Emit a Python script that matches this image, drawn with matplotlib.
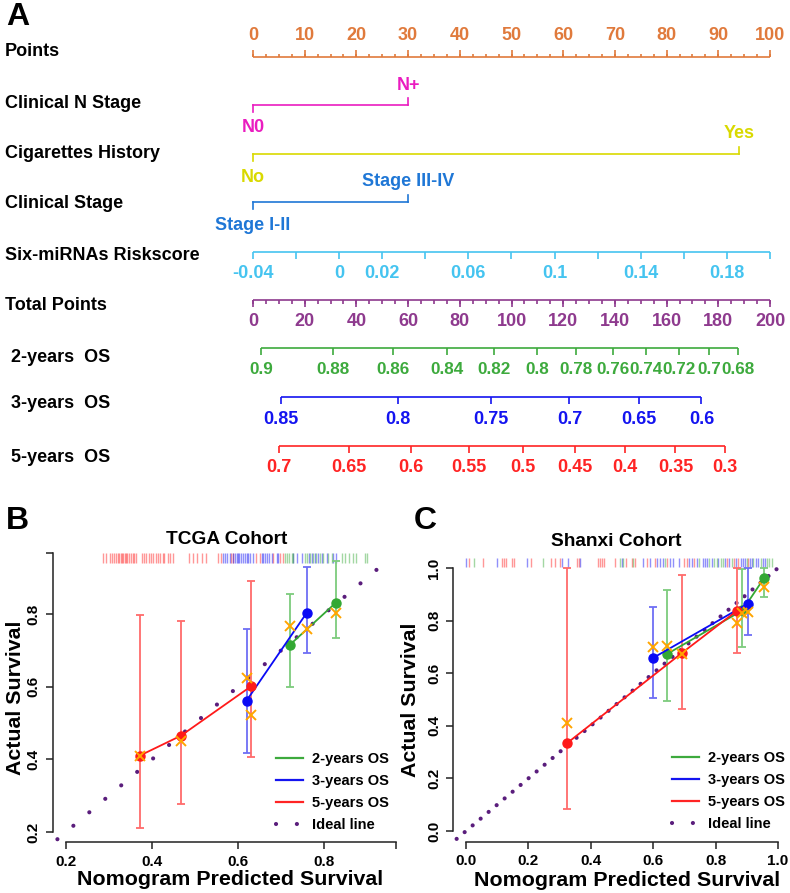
import numpy as np
import matplotlib
matplotlib.use("Agg")
import matplotlib.pyplot as plt
from matplotlib.lines import Line2D
import matplotlib.transforms as mtransforms

plt.rcParams['font.family'] = ['Liberation Sans', 'DejaVu Sans']
plt.rcParams['font.weight'] = 'bold'

# ---------------- nomogram data (panel A) ----------------
points_ticks = list(range(0, 101, 10))
points_minor = list(np.arange(0, 100.1, 2.5))

n_stage_levels = ["N0", "N+"]
n_stage_points = [0, 30]
cig_levels = ["No", "Yes"]
cig_points = [0, 94]
stage_levels = ["Stage I-II", "Stage III-IV"]
stage_points = [0, 30]

risk_ticks = [-0.04, -0.02, 0, 0.02, 0.04, 0.06, 0.08, 0.1, 0.12, 0.14, 0.16, 0.18, 0.2]
risk_labels = [-0.04, 0, 0.02, 0.06, 0.1, 0.14, 0.18]
risk_min, risk_max = -0.04, 0.2

total_ticks = list(range(0, 201, 20))
total_minor = list(range(0, 201, 5))

os2_probs = [0.9, 0.88, 0.86, 0.84, 0.82, 0.8, 0.78, 0.76, 0.74, 0.72, 0.7, 0.68]
os2_total = [3.1, 30.8, 54.2, 74.9, 93.2, 109.9, 125.0, 139.2, 152.2, 164.7, 176.4, 187.7]
os3_probs = [0.85, 0.8, 0.75, 0.7, 0.65, 0.6]
os3_total = [10.9, 56.1, 92.2, 122.4, 149.3, 173.5]
os5_probs = [0.7, 0.65, 0.6, 0.55, 0.5, 0.45, 0.4, 0.35, 0.3]
os5_total = [9.9, 37.0, 61.2, 83.4, 104.3, 124.4, 143.9, 163.4, 182.5]

row_names = ["Points", "Clinical N Stage", "Cigarettes History", "Clinical Stage",
             "Six-miRNAs Riskscore", "Total Points", "2-years  OS", "3-years  OS", "5-years  OS"]

# ---------------- calibration data (panels B, C) ----------------
# TCGA cohort
b_2y_x = [0.721, 0.828]
b_2y_y = [0.716, 0.832]
b_2y_lo = [0.599, 0.733]
b_2y_hi = [0.855, 0.947]
b_2y_corr = [0.767, 0.804]

b_3y_x = [0.620, 0.760]
b_3y_y = [0.562, 0.804]
b_3y_lo = [0.418, 0.694]
b_3y_hi = [0.758, 0.931]
b_3y_corr = [0.624, 0.760]

b_5y_x = [0.371, 0.467, 0.630]
b_5y_y = [0.410, 0.465, 0.601]
b_5y_lo = [0.212, 0.277, 0.406]
b_5y_hi = [0.797, 0.781, 0.892]
b_5y_corr = [0.410, 0.450, 0.521]

b_rug_5y = [0.285, 0.292, 0.302, 0.306, 0.312, 0.316, 0.322, 0.324, 0.327, 0.330, 0.333, 0.337,
            0.340, 0.343, 0.347, 0.351, 0.355, 0.358, 0.362, 0.376, 0.382, 0.386, 0.394, 0.398,
            0.403, 0.409, 0.415, 0.419, 0.425, 0.428, 0.437, 0.442, 0.450, 0.487, 0.496, 0.505,
            0.516, 0.526, 0.554, 0.560, 0.583, 0.589, 0.643, 0.650, 0.682, 0.698, 0.704]
b_rug_3y = [0.564, 0.570, 0.575, 0.581, 0.588, 0.593, 0.597, 0.602, 0.601, 0.606, 0.611, 0.616,
            0.620, 0.624, 0.629, 0.634, 0.655, 0.659, 0.663, 0.668, 0.673, 0.678, 0.690, 0.694,
            0.729, 0.737, 0.748, 0.764, 0.772, 0.779, 0.787, 0.795, 0.806, 0.822, 0.828]
b_rug_2y = [0.709, 0.715, 0.719, 0.725, 0.729, 0.756, 0.761, 0.767, 0.774, 0.781, 0.791, 0.798,
            0.810, 0.818, 0.841, 0.849, 0.859, 0.867, 0.874, 0.895, 0.899]

# Shanxi cohort
c_2y_x = [0.643, 0.886, 0.955]
c_2y_y = [0.672, 0.839, 0.961]
c_2y_lo = [0.494, 0.700, 0.891]
c_2y_hi = [0.916, 0.996, 0.999]
c_2y_corr = [0.703, 0.828, 0.929]

c_3y_x = [0.598, 0.903]
c_3y_y = [0.657, 0.864]
c_3y_lo = [0.507, 0.745]
c_3y_hi = [0.850, 1.0]
c_3y_corr = [0.701, 0.834]

c_5y_x = [0.325, 0.691, 0.868]
c_5y_y = [0.335, 0.676, 0.837]
c_5y_lo = [0.083, 0.465, 0.678]
c_5y_hi = [1.0, 0.973, 1.0]
c_5y_corr = [0.410, 0.674, 0.792]

c_rug_5y = [0.010, 0.055, 0.114, 0.123, 0.127, 0.148, 0.155, 0.208, 0.271, 0.285, 0.301, 0.355,
            0.362, 0.422, 0.429, 0.437, 0.443, 0.478, 0.513, 0.531, 0.542, 0.579, 0.606, 0.645,
            0.699, 0.707, 0.731, 0.838, 0.859, 0.873, 0.905]
c_rug_3y = [-0.001, 0.098, 0.194, 0.309, 0.328, 0.365, 0.499, 0.566, 0.590, 0.613, 0.622, 0.630,
            0.654, 0.664, 0.684, 0.716, 0.723, 0.739, 0.759, 0.766, 0.772, 0.788, 0.809, 0.830,
            0.844, 0.865, 0.880, 0.887, 0.894, 0.910, 0.916, 0.929, 0.937, 0.951, 0.958]
c_rug_2y = [0.027, 0.248, 0.494, 0.504, 0.536, 0.638, 0.748, 0.780, 0.795, 0.804, 0.816, 0.825,
            0.852, 0.900, 0.921, 0.944, 0.964, 0.972, 0.980]

ideal_b = [0.18, 0.93]
ideal_c = [-0.03, 1.0]

# ---------------- figure ----------------
W, H = 790, 893
fig = plt.figure(figsize=(W / 100, H / 100), dpi=100)

c_points = "#E07A3C"
c_nstage = "#EA1CC0"
c_cig = "#D9D900"
c_stage = "#1F77D6"
c_risk = "#45C4F0"
c_total = "#8E3A8E"
c_os2 = "#3DAA3D"
c_os3 = "#1414F0"
c_os5 = "#FF2424"
fs_row = 13
fs_tick = 13

# panel A: one axes in "points" units horizontally, pixel rows vertically
X0, X100 = 253, 770
scale = (X100 - X0) / 100.0
axA = fig.add_axes([0, 1 - 500 / H, 1, 500 / H])
axA.set_xlim(-X0 / scale, (W - X0) / scale)
axA.set_ylim(500, 0)
axA.axis('off')


def px2pt(px):
    return (px - X0) / scale


def scale_row(y, ticks, labels, color, up=False, minor=None, lw=1.2, fs=fs_tick):
    s = -1 if up else 1
    axA.plot([min(ticks), max(ticks)], [y, y], color=color, lw=lw, solid_capstyle='butt')
    axA.vlines(ticks, y, y + s * 7, color=color, lw=lw)
    if minor is not None:
        axA.vlines(minor, y, y + s * 3.5, color=color, lw=lw)
    for p, t in zip(ticks, labels):
        axA.text(p, y + s * 22, t, ha='center', va='center', color=color, fontsize=fs)


def cat_row(y, pts, levels, color, lw=1.2):
    axA.plot([pts[0], pts[1]], [y, y], color=color, lw=lw)
    axA.plot([pts[0], pts[0]], [y, y + 7], color=color, lw=lw)
    axA.plot([pts[1], pts[1]], [y, y - 7], color=color, lw=lw)
    axA.text(pts[0], y + 23, levels[0], ha='center', va='center', color=color, fontsize=fs_tick)
    axA.text(pts[1], y - 20, levels[1], ha='center', va='center', color=color, fontsize=fs_tick)


scale_row(57, points_ticks, [str(v) for v in points_ticks], c_points, up=True, minor=points_minor)
cat_row(105, n_stage_points, n_stage_levels, c_nstage)
cat_row(154, cig_points, cig_levels, c_cig)
cat_row(202, stage_points, stage_levels, c_stage)
risk_pts = [(r - risk_min) / (risk_max - risk_min) * 100 for r in risk_ticks]
scale_row(252, risk_pts, [], c_risk)
for r in risk_labels:
    axA.text((r - risk_min) / (risk_max - risk_min) * 100, 273, f"{r:g}", ha='center', va='center',
             color=c_risk, fontsize=fs_tick)
scale_row(300, [t / 2 for t in total_ticks], [str(v) for v in total_ticks], c_total,
          minor=[t / 2 for t in total_minor])
scale_row(348, [t / 2 for t in os2_total], [f"{p:g}" for p in os2_probs], c_os2, fs=12.3)
scale_row(397, [t / 2 for t in os3_total], [f"{p:g}" for p in os3_probs], c_os3)
scale_row(446, [t / 2 for t in os5_total], [f"{p:g}" for p in os5_probs], c_os5)

row_y = [51, 103, 154, 204, 255, 306, 358, 403, 457]
for name, y in zip(row_names, row_y):
    x = 11 if "OS" in name else 5
    axA.text(px2pt(x), y, name, ha='left', va='center', fontsize=fs_row, color='black')

fig.text(6 / W, 1 - 17 / H, "A", fontsize=23, ha='left', va='center')
fig.text(6 / W, 1 - 521 / H, "B", fontsize=23, ha='left', va='center')
fig.text(414 / W, 1 - 521 / H, "C", fontsize=23, ha='left', va='center')

# ---------------- calibration panels ----------------
orange = "#FFA500"
ideal_col = "#5A1D7C"


def calib(ax, groups, rugs, ideal, gap, xlim, ylim, xt, xtl, yt, ytl, title, tpos, xl_pos, yl_pos):
    ax.set_xlim(*xlim)
    ax.set_ylim(*ylim)
    ax.plot(ideal, ideal, color=ideal_col, lw=3, ls=(0, (0.01, gap)),
            dash_capstyle='round', zorder=1)
    trans = mtransforms.blended_transform_factory(ax.transData, ax.transAxes)
    for vals, col in rugs:
        ax.vlines(vals, 0.966, 1.0, transform=trans, color=col, lw=1.0, alpha=0.45)
    for x, y, lo, hi, corr, col, ecol in groups:
        y = np.array(y)
        ax.errorbar(x, y, yerr=[y - np.array(lo), np.array(hi) - y], fmt='none', ecolor=ecol,
                    elinewidth=1.3, capsize=2.6, capthick=1.3, zorder=2)
        ax.plot(x, y, '-o', color=col, lw=1.3, ms=6.5, zorder=3)
        ax.plot(x, corr, 'x', color=orange, ms=7.5, mew=1.4, zorder=4)
    for s in ['top', 'right']:
        ax.spines[s].set_visible(False)
    ax.spines['left'].set_bounds(yt[0], yt[-1])
    ax.spines['bottom'].set_bounds(xt[0], xt[-1])
    for s in ['left', 'bottom']:
        ax.spines[s].set_linewidth(1.1)
        ax.spines[s].set_color('#222222')
    ax.set_xticks(xt)
    ax.set_xticklabels(xtl)
    ax.set_yticks(yt)
    ax.set_yticklabels(ytl, rotation=90, va='center')
    ax.tick_params(direction='out', length=5, width=1.1, color='#222222', labelsize=11, pad=4)
    ax.patch.set_alpha(0)
    ax.text(tpos[0], tpos[1], title, transform=ax.transAxes, ha='center', va='center', fontsize=13.8)
    ax.text(xl_pos[0], xl_pos[1], "Nomogram Predicted Survival", transform=ax.transAxes,
            ha='center', va='center', fontsize=15.4)
    ax.text(yl_pos[0], yl_pos[1], "Actual Survival", transform=ax.transAxes, rotation=90,
            ha='center', va='center', fontsize=15.4)
    handles = [Line2D([], [], color=c_os2, lw=1.6), Line2D([], [], color=c_os3, lw=1.6),
               Line2D([], [], color=c_os5, lw=1.6),
               Line2D([], [], color=ideal_col, lw=3, ls=(0, (0.01, 5.0)), dash_capstyle='round')]
    ax.legend(handles, ["2-years OS", "3-years OS", "5-years OS", "Ideal line"],
              loc='lower left', bbox_to_anchor=(0.62, 0.0), frameon=False, fontsize=10.5,
              handlelength=1.85, handletextpad=0.6, labelspacing=0.55, borderpad=0.2)


cg, cb, cr = "#33A833", "#0A0AF5", "#FF1A1A"
eg, eb, er = "#7DCB7D", "#6E6EF5", "#FF6B6B"

bL, bR, bB, bT = 53, 396, 842, 553
axB = fig.add_axes([bL / W, 1 - bB / H, (bR - bL) / W, (bB - bT) / H])
bxlim = (0.2 - 13 / 430, 0.2 + (bR - 66) / 430)
bylim = (0.2 - 10 / 362, 0.8 + (614 - bT) / 362)
calib(axB,
      [(b_2y_x, b_2y_y, b_2y_lo, b_2y_hi, b_2y_corr, cg, eg),
       (b_3y_x, b_3y_y, b_3y_lo, b_3y_hi, b_3y_corr, cb, eb),
       (b_5y_x, b_5y_y, b_5y_lo, b_5y_hi, b_5y_corr, cr, er)],
      [(b_rug_5y, cr), (b_rug_3y, cb), (b_rug_2y, cg)],
      ideal_b, 5.0, bxlim, bylim,
      [0.2, 0.4, 0.6, 0.8, bxlim[1]], ["0.2", "0.4", "0.6", "0.8", ""],
      [0.2, 0.4, 0.6, 0.8, bylim[1]], ["0.2", "0.4", "0.6", "0.8", ""],
      "TCGA Cohort", (0.507, 1.048), (0.516, -0.131), (-0.11, 0.5))

cL, cR, cB, cT = 453.5, 790, 841.5, 557.5
axC = fig.add_axes([cL / W, 1 - cB / H, (cR - cL) / W, (cB - cT) / H])
cxlim = ((cL - 466) / 312, (cR - 466) / 312)
cylim = ((831 - cB) / 263, (831 - cT) / 263)
vals = [0.0, 0.2, 0.4, 0.6, 0.8, 1.0]
calib(axC,
      [(c_2y_x, c_2y_y, c_2y_lo, c_2y_hi, c_2y_corr, cg, eg),
       (c_3y_x, c_3y_y, c_3y_lo, c_3y_hi, c_3y_corr, cb, eb),
       (c_5y_x, c_5y_y, c_5y_lo, c_5y_hi, c_5y_corr, cr, er)],
      [(c_rug_5y, cr), (c_rug_3y, cb), (c_rug_2y, cg)],
      ideal_c, 2.5, cxlim, cylim,
      vals, [f"{v:.1f}" for v in vals], vals, [f"{v:.1f}" for v in vals],
      "Shanxi Cohort", (0.485, 1.058), (0.515, -0.136), (-0.128, 0.5))

fig.savefig("out.png", dpi=100)
